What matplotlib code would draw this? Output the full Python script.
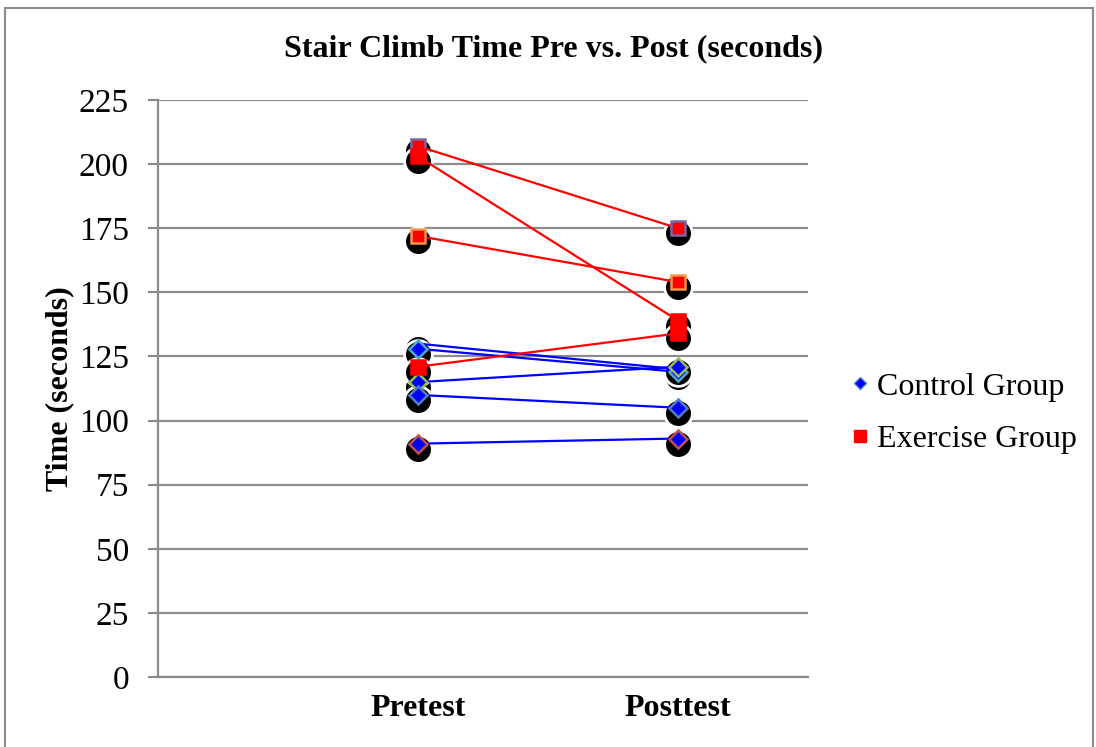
import numpy as np
import matplotlib.pyplot as plt
from matplotlib import transforms
from matplotlib.lines import Line2D
from matplotlib.patches import Rectangle

# values (seconds)
phases = ["Pretest", "Posttest"]
control_pre = [130, 128, 115, 110, 91]
control_post = [120, 119, 121, 105, 93]
exercise_pre = [207, 203, 172, 121]
exercise_post = [175, 139, 154, 134]
yticks = [0, 25, 50, 75, 100, 125, 150, 175, 200, 225]

# excel "vary colors by point" edges
ctrl_edges = ["#8064A2", "#4BACC6", "#9BBB59", "#4F81BD", "#C0504D"]
ctrl_marks = ["^", "D", "D", "D", "D"]
ex_edges = ["#8064A2", "#FF0000", "#F79646", "#FF0000"]

plt.rcParams["font.family"] = ["Liberation Serif", "DejaVu Serif"]

fig = plt.figure(figsize=(10.96, 7.47), dpi=100)
ax = fig.add_axes([0.1442, 0.0937, 0.593, 0.7724])

xs = np.array([1, 2])

ax.set_xlim(0, 2.5)
ax.set_ylim(0, 225)
ax.set_yticks(yticks)
ax.tick_params(axis="y", labelsize=24, length=7, width=1.5, color="#888888", pad=14)
ax.set_xticks(xs)
ax.set_xticklabels(phases, fontsize=23, fontweight="bold")
ax.tick_params(axis="x", length=0, pad=12)
ax.grid(axis="y", color="#8c8c8c", lw=1.6)
ax.set_axisbelow(True)
for s in ["top", "right"]:
    ax.spines[s].set_visible(False)
ax.spines["left"].set_color("#8c8c8c")
ax.spines["left"].set_linewidth(1.6)
ax.spines["bottom"].set_color("#8c8c8c")
ax.spines["bottom"].set_linewidth(1.6)

ax.set_ylabel("Time (seconds)", fontsize=23, fontweight="bold", labelpad=3)
# title is centred on the whole chart area, not on the plot
fig.text(0.505, 0.935, "Stair Climb Time Pre vs. Post (seconds)", fontsize=23,
         fontweight="bold", ha="center", va="center")

# black "shadow" blobs sitting a few pixels below each marker
shadow = transforms.offset_copy(ax.transData, fig=fig, x=0, y=-5, units="dots")
for pre, post in list(zip(control_pre, control_post)) + list(zip(exercise_pre, exercise_post)):
    ax.plot(xs, [pre, post], ls="none", marker="o", ms=20, mfc="black",
            mec="white", mew=2, transform=shadow, zorder=2, clip_on=False)

for pre, post in zip(control_pre, control_post):
    ax.plot(xs, [pre, post], "-", color="#0000FF", lw=1.6, zorder=3)
for pre, post in zip(exercise_pre, exercise_post):
    ax.plot(xs, [pre, post], "-", color="#FF0000", lw=1.6, zorder=3)

for i, (pre, post) in enumerate(zip(control_pre, control_post)):
    ms = 6 if ctrl_marks[i] == "^" else 9
    ax.plot(xs, [pre, post], ls="none", marker=ctrl_marks[i], ms=ms,
            mfc="#0000FF", mec=ctrl_edges[i], mew=1.8, zorder=4)
for i, (pre, post) in enumerate(zip(exercise_pre, exercise_post)):
    ax.plot(xs, [pre, post], ls="none", marker="s", ms=10,
            mfc="#FF0000", mec=ex_edges[i], mew=1.8, zorder=5)

handles = [
    Line2D([], [], ls="none", marker="D", ms=6, mfc="#0000FF", mec="#4F81BD", mew=1),
    Line2D([], [], ls="none", marker="s", ms=9, mfc="#FF0000", mec="#FF0000"),
]
fig.legend(handles, ["Control Group", "Exercise Group"], loc="center left",
           bbox_to_anchor=(0.777, 0.447), frameon=False, fontsize=23,
           handlelength=0.5, handletextpad=0.3, labelspacing=0.72,
           borderaxespad=0, borderpad=0)

# outer chart-area border
fig.patches.append(Rectangle((0.0045, -0.01), 0.993, 0.999, transform=fig.transFigure,
                             fill=False, ec="#8c8c8c", lw=1.5))

fig.savefig("out.png", dpi=100)
